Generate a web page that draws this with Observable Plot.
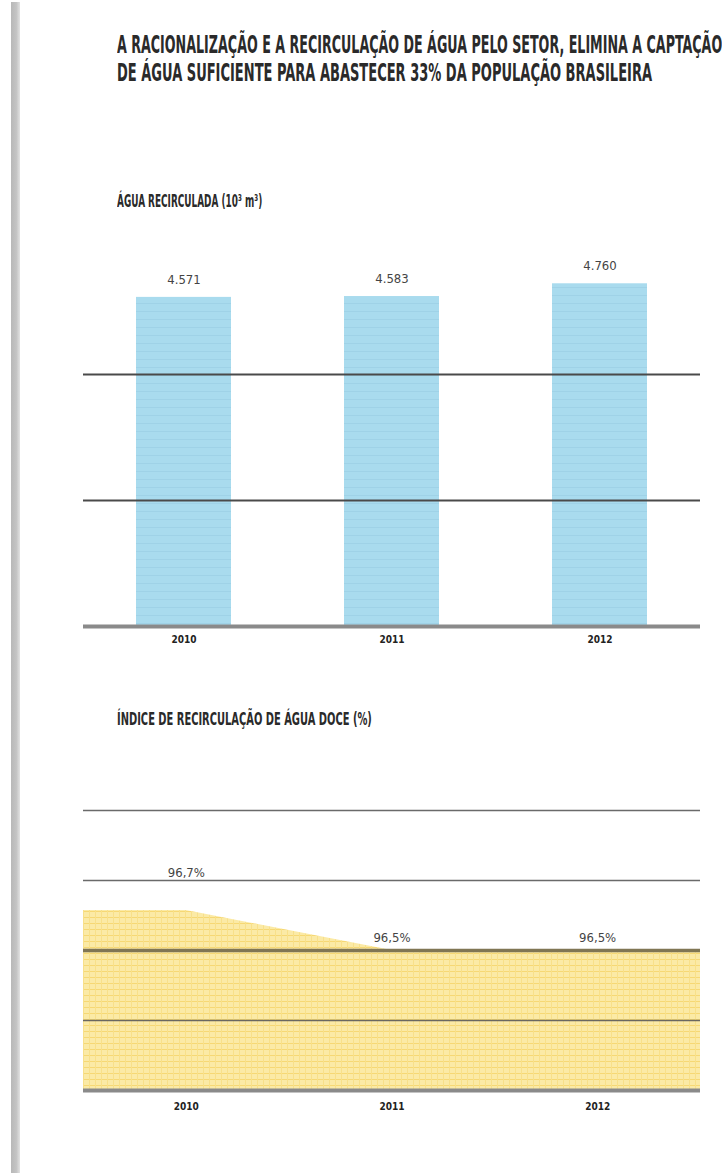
<!DOCTYPE html>
<html><head><meta charset="utf-8">
<script src="https://cdn.jsdelivr.net/npm/d3@7"></script>
<script src="https://cdn.jsdelivr.net/npm/@observablehq/plot@0.6"></script>
<style>
body{margin:0;background:#fff;}
#page{position:relative;width:722px;height:1173px;overflow:hidden;background:#fff;font-family:"Liberation Sans Narrow","DejaVu Sans Condensed",sans-serif;}
.rail{position:absolute;left:11px;top:2px;width:9px;bottom:0;background:linear-gradient(to right,#b8b8b8,#c4c4c4 60%,#e2e2e2);}
.fit{position:absolute;left:117px;white-space:nowrap;transform-origin:0 50%;color:#2a2a2a;font-weight:bold;}
.title{font-size:24px;line-height:26px;}
.sub{font-size:17px;line-height:18px;}
.chart{position:absolute;left:0;}
</style></head>
<body><div id="page"><div class="rail"></div></div>
<script>
// ---- data ----
const titleLines = [
  "A RACIONALIZAÇÃO E A RECIRCULAÇÃO DE ÁGUA PELO SETOR, ELIMINA A CAPTAÇÃO",
  "DE ÁGUA SUFICIENTE PARA ABASTECER 33% DA POPULAÇÃO BRASILEIRA"
];
const subtitle1 = "ÁGUA RECIRCULADA (10³ m³)";
const subtitle2 = "ÍNDICE DE RECIRCULAÇÃO DE ÁGUA DOCE (%)";
const years = [2010, 2011, 2012];
const recirculated = [4571, 4583, 4760];      // 10³ m³
const freshIndex = [96.7, 96.5, 96.5];        // %
const gridRecirc = [1750, 3500];
const gridIndexThin = [96.15, 96.85, 97.2];
const gridIndexThick = [96.5];

const page = document.getElementById("page");

function addFit(text, cls, top, target) {
  const el = document.createElement("div");
  el.className = "fit " + cls;
  el.style.top = top + "px";
  el.textContent = text;
  page.appendChild(el);
  const w = el.offsetWidth;
  el.style.transform = `scaleX(${target / w})`;
}
addFit(titleLines[0], "title", 32, 605);
addFit(titleLines[1], "title", 60, 535);
addFit(subtitle1, "sub", 192, 145);
addFit(subtitle2, "sub", 710, 255);

function addPatterns(svg) {
  const defs = d3.select(svg).insert("defs", ":first-child");
  const pb = defs.append("pattern").attr("id", "pb").attr("patternUnits", "userSpaceOnUse")
    .attr("width", 24).attr("height", 8);
  pb.append("rect").attr("width", 24).attr("height", 8).attr("fill", "#a9dbee");
  pb.append("line").attr("x1", 0).attr("x2", 24).attr("y1", 7.5).attr("y2", 7.5)
    .attr("stroke", "#9fd2e7").attr("stroke-width", 1);
  const py = defs.append("pattern").attr("id", "py").attr("patternUnits", "userSpaceOnUse")
    .attr("width", 6).attr("height", 6);
  py.append("rect").attr("width", 6).attr("height", 6).attr("fill", "#fbeaa6");
  py.append("line").attr("x1", 0).attr("x2", 6).attr("y1", 5.5).attr("y2", 5.5)
    .attr("stroke", "#f6d874").attr("stroke-width", 1);
  py.append("line").attr("x1", 5.5).attr("x2", 5.5).attr("y1", 0).attr("y2", 6)
    .attr("stroke", "#f8e08a").attr("stroke-width", 1);
}

const fmtThousands = v => d3.format(",")(v).replace(/,/g, ".");
const fmtPct = v => String(v).replace(".", ",") + "%";
const labelFont = "Liberation Sans Narrow, DejaVu Sans Condensed, sans-serif";

// ---- chart 1 ----
const rows1 = years.map((y, i) => ({year: String(y), value: recirculated[i]}));
const c1 = Plot.plot({
  width: 722, height: 420,
  marginTop: 26, marginBottom: 34, marginLeft: 83, marginRight: 22,
  style: {background: "transparent", fontFamily: labelFont},
  x: {type: "band", domain: years.map(String), paddingInner: 0.545, paddingOuter: 0.25},
  y: {domain: [0, 5000], axis: null},
  marks: [
    Plot.barY(rows1, {x: "year", y: "value", fill: "url(#pb)"}),
    Plot.ruleY(gridRecirc, {stroke: "#4a4a4a", strokeWidth: 2}),
    Plot.ruleY([0], {stroke: "#8a8a8a", strokeWidth: 4}),
    Plot.text(rows1, {x: "year", y: "value", text: d => fmtThousands(d.value), dy: -18,
      fontSize: 13, fill: "#444"}),
    Plot.axisX({tickSize: 0, tickPadding: 9, fontSize: 10, fontWeight: "bold", color: "#222", label: null})
  ]
});
c1.classList.add("chart");
c1.style.top = "240px";
c1.style.position = "absolute";
addPatterns(c1);
page.appendChild(c1);

// ---- chart 2 ----
const xDom2 = [2009.5, 2012.5];
const yDom2 = [95.8, 97.2];
const rows2 = years.map((y, i) => ({year: y, value: freshIndex[i]}));
const areaRows = [{year: xDom2[0], value: freshIndex[0]}, ...rows2,
                  {year: xDom2[1], value: freshIndex[freshIndex.length - 1]}];
const c2 = Plot.plot({
  width: 722, height: 344,
  marginTop: 30, marginBottom: 34, marginLeft: 83, marginRight: 22,
  style: {background: "transparent", fontFamily: labelFont},
  x: {domain: xDom2},
  y: {domain: yDom2, axis: null},
  marks: [
    Plot.areaY(areaRows, {x: "year", y1: yDom2[0], y2: "value", fill: "url(#py)"}),
    Plot.ruleY(gridIndexThin, {stroke: "#5a5a5a", strokeWidth: 1.6, strokeOpacity: 0.9}),
    Plot.ruleY(gridIndexThick, {stroke: "#807654", strokeWidth: 3.5}),
    Plot.ruleY([yDom2[0]], {stroke: "#8a8a8a", strokeWidth: 4}),
    Plot.text(rows2, {filter: (d, i) => i === 0, x: "year", y: "value", text: d => fmtPct(d.value),
      dy: -38, fontSize: 13, fill: "#444"}),
    Plot.text(rows2, {filter: (d, i) => i > 0, x: "year", y: "value", text: d => fmtPct(d.value),
      dy: -13, fontSize: 13, fill: "#444"}),
    Plot.axisX(years, {tickSize: 0, tickPadding: 12, tickFormat: d => String(d), fontSize: 10,
      fontWeight: "bold", color: "#222", label: null})
  ]
});
c2.style.top = "780px";
c2.style.position = "absolute";
c2.style.left = "0px";
addPatterns(c2);
page.appendChild(c2);
</script>
</body></html>
